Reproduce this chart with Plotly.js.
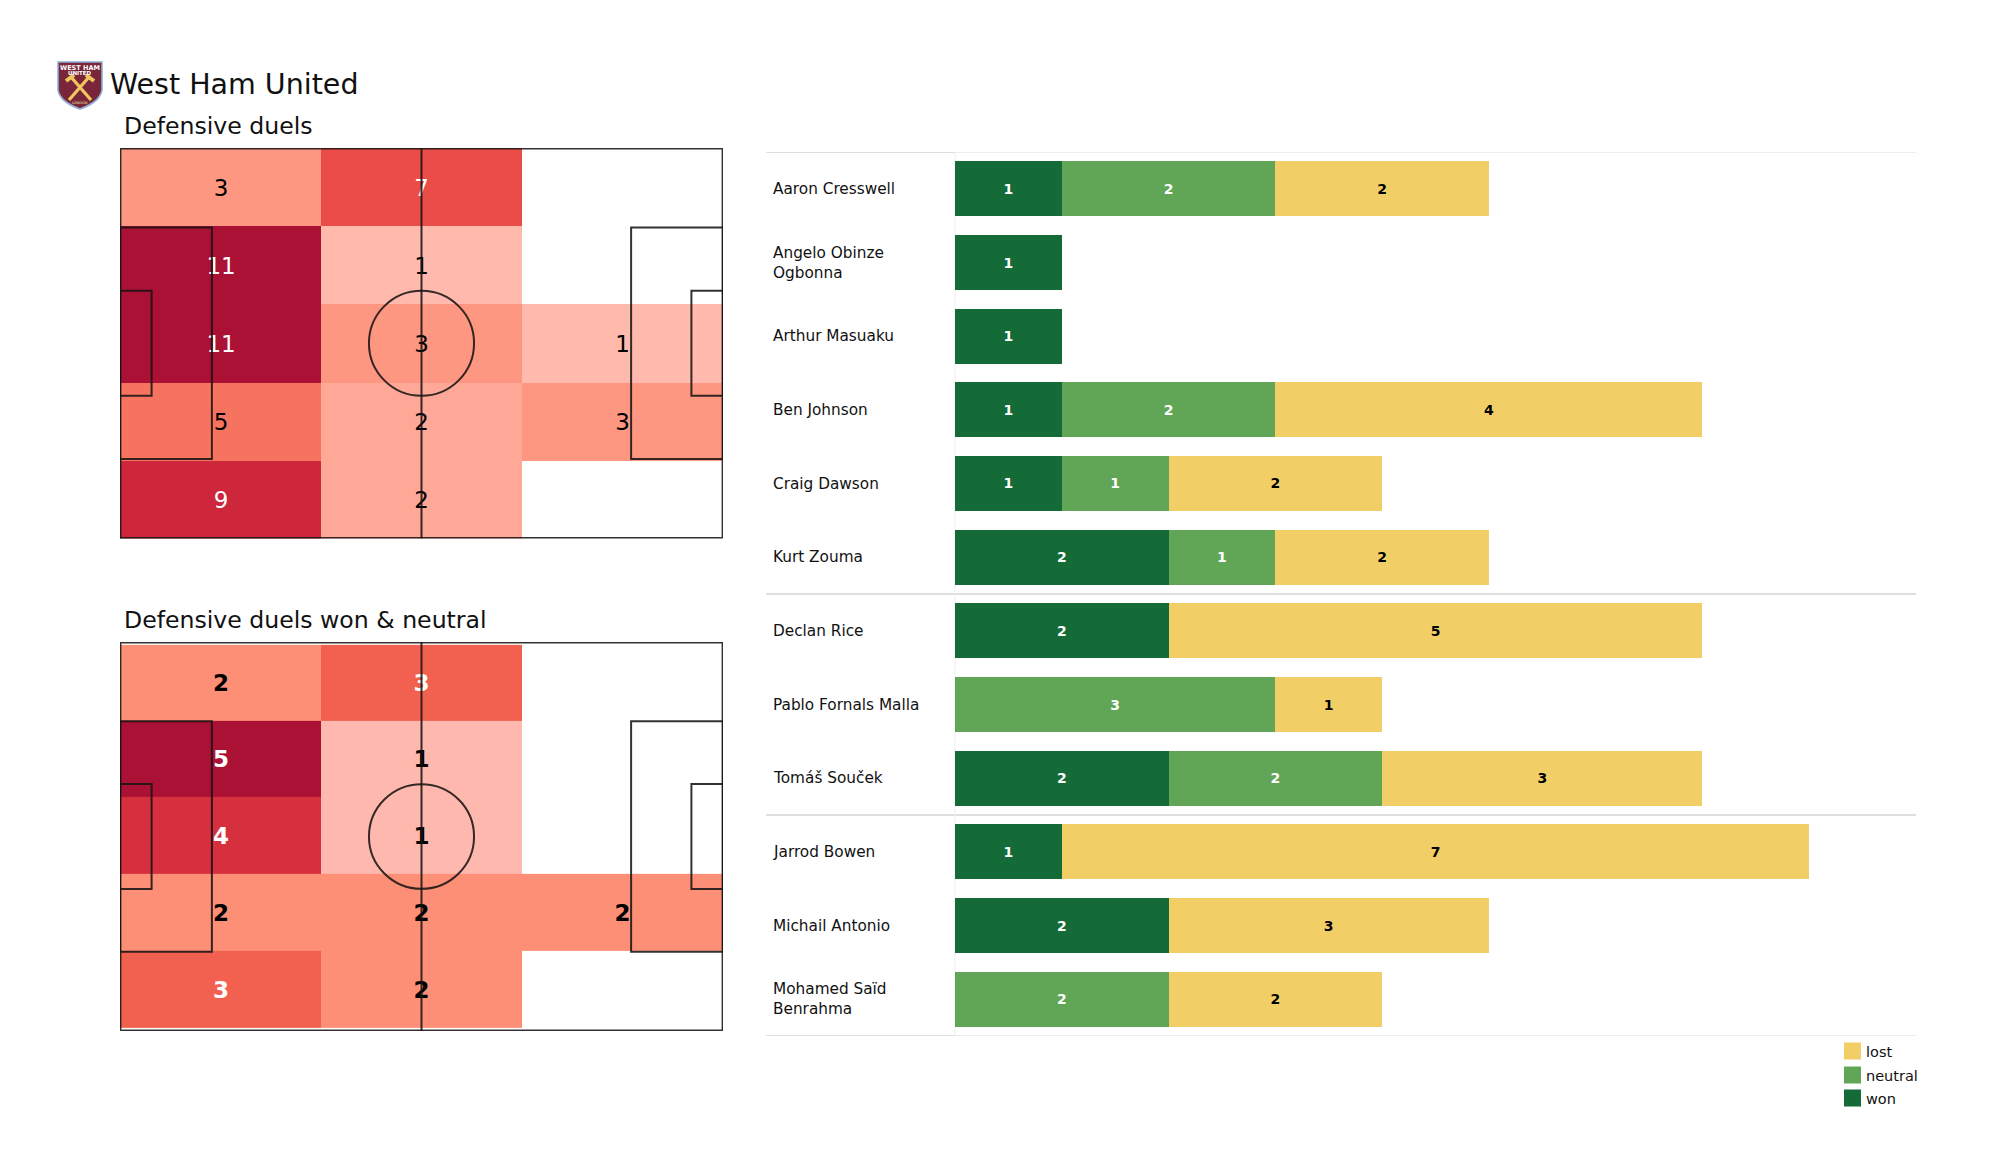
<!DOCTYPE html>
<html>
<head>
<meta charset="utf-8">
<script src="https://cdn.plot.ly/plotly-3.0.1.min.js"></script>
<style>html,body{margin:0;padding:0;background:#fff}</style>
</head>
<body>
<div id="chart" style="width:2000px;height:1175px"></div>
<script>
// ---- data ----
const players = ["Aaron Cresswell","Angelo Obinze<br>Ogbonna","Arthur Masuaku","Ben Johnson","Craig Dawson","Kurt Zouma","Declan Rice","Pablo Fornals Malla","Tomáš Souček","Jarrod Bowen","Michail Antonio","Mohamed Saïd<br>Benrahma"];
const won     = [1,1,1,1,1,2,2,0,2,1,2,0];
const neutral = [2,0,0,2,1,1,0,3,2,0,0,2];
const lost    = [2,0,0,4,2,2,5,1,3,7,3,2];
const duels = [[3,7,null],[11,1,null],[11,3,1],[5,2,3],[9,2,null]];
const duelsWonNeutral = [[2,3,null],[5,1,null],[4,1,null],[2,2,2],[3,2,null]];
const teamName = "West Ham United";
const titleA = "Defensive duels";
const titleB = "Defensive duels won & neutral";
const legendNames = ["lost","neutral","won"];

// ---- styles ----
const FONT = "DejaVu Sans";
const C = {won:"#156b38", neutral:"#61a656", lost:"#f2cf66"};
const W = 2000, H = 1175;
const px = v => v / W, py = v => 1 - v / H;
const scaleA = [[0,"#ffb9ad"],[0.1,"#ffa898"],[0.2,"#fe9782"],[0.4,"#f6745f"],[0.6,"#ea4c48"],[0.8,"#ce273b"],[1,"#ab1035"]];
const scaleB = [[0,"#ffb8ad"],[0.25,"#fd8f76"],[0.5,"#f26150"],[0.75,"#d62f3e"],[1,"#ab1035"]];

const colCentres = [17.6,52.5,87.5];
const rowEdgesA = [0,13.6,27.2,40.8,54.4,68];
const rowEdgesB = [0.5,13.7,27,40.6,54,67.5];
const colEdgesA = [0,35,70,105];
const colEdgesB = [0,35,70,105];

function heat(z, xa, ya, scale, xe, edges, min, max) {
  return {type:"heatmap", z:z, x:xe, y:edges, xaxis:xa, yaxis:ya, colorscale:scale,
          zmin:min, zmax:max, showscale:false, hoverongaps:false};
}
function labels(z, xa, ya, edges, whiteFrom, size, bold, nudge) {
  const xs=[], ys=[], t=[], c=[];
  z.forEach((row,r)=>row.forEach((v,k)=>{
    if(v===null) return;
    xs.push(colCentres[k]); ys.push((edges[r]+edges[r+1])/2+nudge); t.push(String(v));
    c.push(v>=whiteFrom ? "#ffffff" : "#000000");
  }));
  return {type:"scatter", mode:"text", x:xs, y:ys, text:t, xaxis:xa, yaxis:ya, hoverinfo:"skip",
          textposition:"middle center", textfont:{family:FONT,size:size,color:c,weight:bold?700:400}, showlegend:false};
}
function bar(vals, name, color, textColor) {
  return {type:"bar", orientation:"h", name:name, y:players, x:vals, xaxis:"x3", yaxis:"y3",
          marker:{color:color,line:{width:0}}, text:vals.map(v=>v?String(v):""), textposition:"inside",
          insidetextanchor:"middle", textangle:0, constraintext:"none",
          insidetextfont:{family:FONT,size:14,color:textColor,weight:700}, showlegend:false};
}

// overlay axes in page pixels, for the crest and legend keys
const legendY = [1051,1075,1098];
const legendKeys = {type:"scatter", mode:"markers", x:[1852.5,1852.5,1852.5], y:legendY,
  xaxis:"x4", yaxis:"y4", hoverinfo:"skip", showlegend:false,
  marker:{symbol:"square",size:17,color:[C.lost,C.neutral,C.won]}};
const legendText = {type:"scatter", mode:"text", x:[1866,1866,1866], y:legendY.map(v=>v+2), text:legendNames,
  xaxis:"x4", yaxis:"y4", textposition:"middle right", hoverinfo:"skip", showlegend:false,
  textfont:{family:FONT,size:14.5,color:"#111"}};

const traces = [
  heat(duels,"x","y",scaleA,colEdgesA,rowEdgesA,1,11),
  heat(duelsWonNeutral,"x2","y2",scaleB,colEdgesB,rowEdgesB,1,5),
  bar(won,"won",C.won,"#ffffff"),
  bar(neutral,"neutral",C.neutral,"#ffffff"),
  bar(lost,"lost",C.lost,"#000000"),
  labels(duels,"x","y",rowEdgesA,7,23,false,0.55),
  labels(duelsWonNeutral,"x2","y2",rowEdgesB,3,23,true,0.45),
  legendKeys, legendText
];

// ---- pitch shapes ----
function pitch(xr, yr) {
  const ln = {color:"rgba(25,20,20,0.88)", width:2};
  const mk = (type,x0,y0,x1,y1,w) => ({type:type,xref:xr,yref:yr,x0,y0,x1,y1,layer:"above",fillcolor:"rgba(0,0,0,0)",line:w?{color:ln.color,width:w}:ln});
  return [
    mk("rect",0,0,105,68,2.8),
    mk("line",52.5,0,52.5,68),
    mk("circle",43.35,24.85,61.65,43.15),
    mk("rect",0,13.84,16,54.16),
    mk("rect",0,24.84,5.5,43.16),
    mk("rect",89,13.84,105,54.16),
    mk("rect",99.5,24.84,105,43.16)
  ];
}

// ---- rules of the table ----
const ruleGrey = "#d4d4d4", ruleLight = "#e6e6e6";
function rule(yCat, c1, c2, w) {
  return [
    {type:"line",xref:"paper",yref:"y3",x0:px(766),x1:px(955),y0:yCat,y1:yCat,layer:"below",line:{color:c1,width:w}},
    {type:"line",xref:"paper",yref:"y3",x0:px(955),x1:px(1916),y0:yCat,y1:yCat,layer:"below",line:{color:c2,width:w}}
  ];
}
const rules = [].concat(
  rule(-0.5,ruleGrey,ruleLight,1.5), rule(5.5,ruleGrey,ruleGrey,1.5),
  rule(8.5,ruleGrey,ruleGrey,1.5), rule(11.5,ruleGrey,ruleLight,1.5),
  [{type:"line",xref:"paper",yref:"y3",x0:px(955),x1:px(955),y0:-0.5,y1:11.5,layer:"below",line:{color:"#eeeeee",width:1}}]
);

// ---- crest ----
const g = {xref:"x4",yref:"y4",layer:"above"};
const gold = "#f0c75e";
const crest = [
  {...g,type:"path",path:"M58,62 L102,62 L102,90 Q100,102 80,109 Q60,102 58,90 Z",fillcolor:"#7a263a",line:{color:"#8fb0d6",width:1.6}},
  {...g,type:"line",x0:69,y0:100,x1:89,y1:77,line:{color:gold,width:3.2}},
  {...g,type:"line",x0:91,y0:100,x1:71,y1:77,line:{color:gold,width:3.2}},
  {...g,type:"line",x0:86,y0:75,x1:94,y1:81,line:{color:gold,width:4}},
  {...g,type:"line",x0:74,y0:75,x1:66,y1:81,line:{color:gold,width:4}}
];
function note(text,x,y,size,opts) {
  return Object.assign({text:text,xref:"paper",yref:"paper",x:px(x),y:py(y),xanchor:"left",yanchor:"middle",
    showarrow:false,font:{family:FONT,size:size,color:"#111"},align:"left"},opts||{});
}
const annos = [
  note(teamName,107.5,84.5,28.5),
  note(titleA,121.5,126,23.6),
  note(titleB,121.5,620,23.6),
  note("WEST HAM",80,67.5,6.5,{xanchor:"center",font:{family:FONT,size:6.5,color:"#fff",weight:700}}),
  note("UNITED",80,72.5,5.5,{xanchor:"center",font:{family:FONT,size:5.5,color:"#fff",weight:700}}),
  note("LONDON",80,103,3.5,{xanchor:"center",font:{family:FONT,size:3.5,color:"#f3e3b0"}})
].concat(players.map(p=>({text:p,xref:"paper",yref:"y3",x:px(771),y:p,yshift:0,xanchor:"left",yanchor:"middle",align:"left",
  showarrow:false,font:{family:FONT,size:15.3,color:"#111"}})));

const hidden = {visible:false,fixedrange:true};
const layout = {
  width:W,height:H,margin:{l:0,r:0,t:0,b:0,pad:0},paper_bgcolor:"#fff",plot_bgcolor:"rgba(0,0,0,0)",
  barmode:"stack",bargap:0.25,showlegend:false,font:{family:FONT},
  xaxis:{...hidden,domain:[px(120),px(723)],range:[0,105],anchor:"y"},
  yaxis:{...hidden,domain:[py(538.5),py(148)],range:[68,0],anchor:"x"},
  xaxis2:{...hidden,domain:[px(120),px(723)],range:[0,105],anchor:"y2"},
  yaxis2:{...hidden,domain:[py(1031),py(642)],range:[68,0],anchor:"x2"},
  xaxis3:{...hidden,domain:[px(955),px(1916)],range:[0,9.0],anchor:"y3"},
  yaxis3:{...hidden,domain:[py(1036),py(152)],type:"category",categoryorder:"array",categoryarray:players,range:[11.5,-0.5],anchor:"x3"},
  xaxis4:{...hidden,domain:[0,1],range:[0,W],anchor:"y4"},
  yaxis4:{...hidden,domain:[0,1],range:[H,0],anchor:"x4"},
  shapes:[].concat(rules,pitch("x","y"),pitch("x2","y2"),crest),
  annotations:annos
};
Plotly.newPlot("chart",traces,layout,{displayModeBar:false,staticPlot:true});
</script>
</body>
</html>
